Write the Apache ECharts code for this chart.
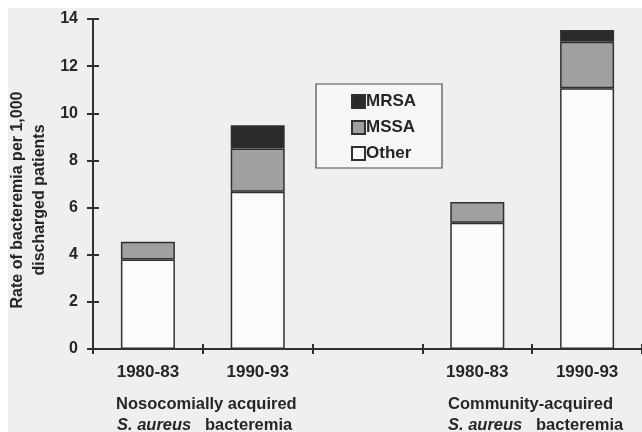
<!DOCTYPE html>
<html><head><meta charset="utf-8">
<script src="https://cdn.jsdelivr.net/npm/echarts@6/dist/echarts.min.js"></script>
<style>html,body{margin:0;padding:0;background:#fff}#c{width:642px;height:432px}</style>
</head><body><div id="c"></div>
<script>
var categories = ['1980-83', '1990-93', '', '1980-83', '1990-93'];
var other = [3.8, 6.67, '-', 5.36, 11.06];
var mssa = [0.75, 1.84, '-', 0.88, 1.98];
var mrsa = [0, 0.98, '-', 0, 0.49];
var yTicks = [0, 2, 4, 6, 8, 10, 12, 14];
var groupTitles = ['Nosocomially acquired', 'Community-acquired'];

var FONT = '"Liberation Sans", Arial, sans-serif';
var INK = '#262626';
var chart = echarts.init(document.getElementById('c'));
var yMin = yTicks[0], yMax = yTicks[yTicks.length - 1], yStep = yTicks[1] - yTicks[0];
function barSeries(name, data, color) {
  return {
    name: name, type: 'bar', stack: 'total', barWidth: 54,
    data: data.map(function (v) { return v === 0 ? '-' : v; }),
    itemStyle: { color: color, borderColor: '#303030', borderWidth: 1.5 },
    emphasis: { disabled: true }
  };
}
var axisLine = { show: true, lineStyle: { color: '#303030', width: 2 } };
chart.setOption({
  backgroundColor: '#ffffff',
  animation: false,
  grid: { left: 93, right: -2, top: 19, bottom: 83 },
  legend: {
    orient: 'vertical', left: 346, top: 88, itemWidth: 13, itemHeight: 13, itemGap: 9,
    data: ['MRSA', 'MSSA', 'Other'], icon: 'rect', selectedMode: false,
    textStyle: { fontFamily: FONT, fontWeight: 'bold', fontSize: 17, color: INK, padding: [0, 0, 0, -4] }
  },
  xAxis: [{
    type: 'category', data: categories, axisLine: axisLine,
    axisTick: { show: true, length: 5, lineStyle: { color: '#303030', width: 2 } },
    axisLabel: { fontFamily: FONT, fontWeight: 'bold', fontSize: 17, color: INK, margin: 15 }
  }, {
    type: 'category', data: categories, position: 'bottom', axisLine: { show: false },
    axisTick: { show: true, inside: true, length: 5, lineStyle: { color: '#303030', width: 2 } },
    axisLabel: { show: false }
  }],
  yAxis: [{
    type: 'value', min: yMin, max: yMax, interval: yStep, axisLine: axisLine, splitLine: { show: false },
    axisTick: { show: true, length: 6, lineStyle: { color: '#303030', width: 2 } },
    axisLabel: { fontFamily: FONT, fontWeight: 'bold', fontSize: 16, color: INK, margin: 15 }
  }, {
    type: 'value', min: yMin, max: yMax, interval: yStep, position: 'left', axisLine: { show: false },
    splitLine: { show: false },
    axisTick: { show: true, inside: true, length: 6, lineStyle: { color: '#303030', width: 2 } },
    axisLabel: { show: false }
  }],
  series: [
    barSeries('Other', other, '#fbfbfb'),
    barSeries('MSSA', mssa, '#a0a0a0'),
    barSeries('MRSA', mrsa, '#2a2a2a')
  ],
  graphic: [
    { type: 'rect', z: -10, silent: true, shape: { x: 8, y: 8, width: 640, height: 430 }, style: { fill: '#efefef' } },
    { type: 'rect', z: -5, silent: true, shape: { x: 316, y: 84, width: 126, height: 84 }, style: { fill: '#f6f6f6', stroke: '#4a4a4a', lineWidth: 1.2 } },
    { type: 'text', x: 18, y: 200, rotation: Math.PI / 2, silent: true,
      style: { text: 'Rate of bacteremia per 1,000', fontFamily: FONT, fontWeight: 'bold', fontSize: 16, fill: INK, align: 'center', verticalAlign: 'middle' } },
    { type: 'text', x: 40, y: 200, rotation: Math.PI / 2, silent: true,
      style: { text: 'discharged patients', fontFamily: FONT, fontWeight: 'bold', fontSize: 16, fill: INK, align: 'center', verticalAlign: 'middle' } },
    { type: 'text', x: 116, y: 404, silent: true,
      style: { text: groupTitles[0], fontFamily: FONT, fontWeight: 'bold', fontSize: 16.5, fill: INK, align: 'left', verticalAlign: 'middle' } },
    { type: 'text', x: 117, y: 425, silent: true,
      style: { text: '{i|S. aureus}   bacteremia', fontFamily: FONT, fontWeight: 'bold', fontSize: 16.5, fill: INK, align: 'left', verticalAlign: 'middle',
        rich: { i: { fontFamily: FONT, fontWeight: 'bold', fontStyle: 'italic', fontSize: 16.5, fill: INK } } } },
    { type: 'text', x: 448, y: 404, silent: true,
      style: { text: groupTitles[1], fontFamily: FONT, fontWeight: 'bold', fontSize: 16.5, fill: INK, align: 'left', verticalAlign: 'middle' } },
    { type: 'text', x: 448, y: 425, silent: true,
      style: { text: '{i|S. aureus}   bacteremia', fontFamily: FONT, fontWeight: 'bold', fontSize: 16.5, fill: INK, align: 'left', verticalAlign: 'middle',
        rich: { i: { fontFamily: FONT, fontWeight: 'bold', fontStyle: 'italic', fontSize: 16.5, fill: INK } } } }
  ]
});
</script></body></html>
